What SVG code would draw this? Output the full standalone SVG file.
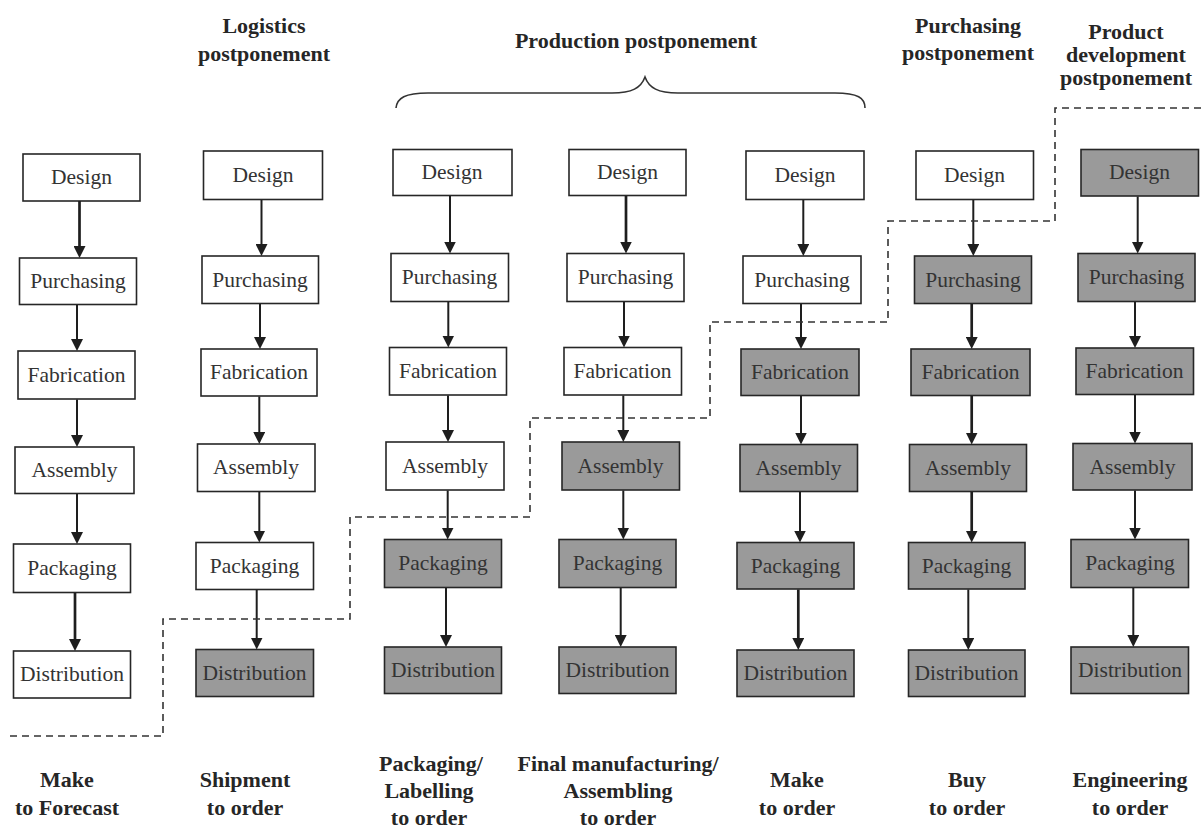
<svg xmlns="http://www.w3.org/2000/svg" width="1204" height="830" viewBox="0 0 1204 830" font-family="'Liberation Serif', 'Times New Roman', 'DejaVu Serif', serif">
  <defs>
    <style>
      text { font-family: 'Liberation Serif', 'Times New Roman', 'DejaVu Serif', serif; }
      .box rect { fill: #ffffff; stroke: #262626; stroke-width: 1.6; }
      .box.dark rect { fill: #9a9a9a; }
      .box text { font-size: 21.5px; fill: #333333; text-anchor: middle; }
      .head { font-size: 22px; font-weight: bold; fill: #262626; text-anchor: middle; }
      .flow line { stroke: #1e1e1e; stroke-width: 2; marker-end: url(#ah); }
      .flow line.thick { stroke-width: 2.7; }
      .cut { fill: none; stroke: #333333; stroke-width: 1.6; stroke-dasharray: 7 5; }
      .brace { fill: none; stroke: #333333; stroke-width: 1.6; }
    </style>
    <marker id="ah" viewBox="0 0 12 12" refX="8" refY="6" markerWidth="12" markerHeight="12" markerUnits="userSpaceOnUse" orient="auto">
      <path d="M0,0 L12,6 L0,12 z" fill="#1e1e1e"/>
    </marker>
  </defs>

  <rect x="0" y="0" width="1204" height="830" fill="#ffffff"/>

  <!-- strategy headings -->
  <g id="headings">
    <text class="head" x="264" y="33">Logistics</text>
    <text class="head" x="264" y="61">postponement</text>
    <text class="head" x="636" y="48">Production postponement</text>
    <text class="head" x="968" y="33">Purchasing</text>
    <text class="head" x="968" y="60">postponement</text>
    <text class="head" x="1126" y="39">Product</text>
    <text class="head" x="1126" y="62">development</text>
    <text class="head" x="1126" y="85">postponement</text>
    <path class="brace" d="M396,108 C397,98 405,93 428,93 L612,93 C632,93 641,88 645,77 C649,88 658,93 678,93 L835,93 C858,93 865,98 865,108"/>
  </g>

  <!-- column 1: make to forecast -->
  <g id="c1-design" class="box"><rect x="23" y="154" width="117" height="47"/><text x="81.5" y="184">Design</text></g>
  <g id="c1-purchasing" class="box"><rect x="19.5" y="258" width="117" height="46.5"/><text x="78" y="288">Purchasing</text></g>
  <g id="c1-fabrication" class="box"><rect x="18" y="351" width="117" height="48"/><text x="76.5" y="382">Fabrication</text></g>
  <g id="c1-assembly" class="box"><rect x="15" y="447" width="119" height="46.5"/><text x="74.5" y="477">Assembly</text></g>
  <g id="c1-packaging" class="box"><rect x="13.5" y="544" width="117" height="48.5"/><text x="72" y="575">Packaging</text></g>
  <g id="c1-distribution" class="box"><rect x="13.5" y="651" width="117" height="47"/><text x="72" y="681">Distribution</text></g>

  <!-- column 2: shipment to order -->
  <g id="c2-design" class="box"><rect x="203.5" y="151" width="119" height="48.5"/><text x="263" y="182">Design</text></g>
  <g id="c2-purchasing" class="box"><rect x="202" y="256" width="116.5" height="47.5"/><text x="260" y="287">Purchasing</text></g>
  <g id="c2-fabrication" class="box"><rect x="201" y="349" width="116" height="47"/><text x="259" y="379">Fabrication</text></g>
  <g id="c2-assembly" class="box"><rect x="197.5" y="444" width="117.5" height="47.5"/><text x="256" y="474">Assembly</text></g>
  <g id="c2-packaging" class="box"><rect x="196" y="542.5" width="117.5" height="47"/><text x="254.5" y="573">Packaging</text></g>
  <g id="c2-distribution" class="box dark"><rect x="196" y="649.5" width="117.5" height="47"/><text x="254.5" y="680">Distribution</text></g>

  <!-- column 3: packaging/labelling to order -->
  <g id="c3-design" class="box"><rect x="393" y="149.5" width="119" height="46"/><text x="452" y="179">Design</text></g>
  <g id="c3-purchasing" class="box"><rect x="391" y="253.5" width="117.5" height="48"/><text x="449.5" y="284">Purchasing</text></g>
  <g id="c3-fabrication" class="box"><rect x="389.5" y="347.5" width="117" height="47.5"/><text x="448" y="378">Fabrication</text></g>
  <g id="c3-assembly" class="box"><rect x="386" y="442" width="118" height="48"/><text x="445" y="473">Assembly</text></g>
  <g id="c3-packaging" class="box dark"><rect x="384.5" y="539.5" width="117" height="48"/><text x="443" y="570">Packaging</text></g>
  <g id="c3-distribution" class="box dark"><rect x="384.5" y="647" width="117" height="46.5"/><text x="443" y="677">Distribution</text></g>

  <!-- column 4: final manufacturing/assembling to order -->
  <g id="c4-design" class="box"><rect x="569" y="149.5" width="117" height="46"/><text x="627.5" y="179">Design</text></g>
  <g id="c4-purchasing" class="box"><rect x="567" y="253.5" width="117" height="48"/><text x="625.5" y="284">Purchasing</text></g>
  <g id="c4-fabrication" class="box"><rect x="564" y="347.5" width="117.5" height="47.5"/><text x="622.5" y="378">Fabrication</text></g>
  <g id="c4-assembly" class="box dark"><rect x="562" y="442" width="117.5" height="48"/><text x="620.5" y="473">Assembly</text></g>
  <g id="c4-packaging" class="box dark"><rect x="559" y="539.5" width="117" height="48"/><text x="617.5" y="570">Packaging</text></g>
  <g id="c4-distribution" class="box dark"><rect x="559" y="647" width="117" height="46.5"/><text x="617.5" y="677">Distribution</text></g>

  <!-- column 5: make to order -->
  <g id="c5-design" class="box"><rect x="746" y="151" width="118" height="48.5"/><text x="805" y="182">Design</text></g>
  <g id="c5-purchasing" class="box"><rect x="743" y="256" width="118" height="47.5"/><text x="802" y="287">Purchasing</text></g>
  <g id="c5-fabrication" class="box dark"><rect x="741" y="349" width="118" height="46.5"/><text x="800" y="379">Fabrication</text></g>
  <g id="c5-assembly" class="box dark"><rect x="740" y="444.5" width="117.5" height="47"/><text x="798.5" y="475">Assembly</text></g>
  <g id="c5-packaging" class="box dark"><rect x="737" y="542.5" width="117" height="46.5"/><text x="795.5" y="573">Packaging</text></g>
  <g id="c5-distribution" class="box dark"><rect x="737" y="650" width="117" height="46.5"/><text x="795.5" y="680">Distribution</text></g>

  <!-- column 6: buy to order -->
  <g id="c6-design" class="box"><rect x="916" y="151" width="117.5" height="48.5"/><text x="974.5" y="182">Design</text></g>
  <g id="c6-purchasing" class="box dark"><rect x="914.5" y="256" width="117" height="47.5"/><text x="973" y="287">Purchasing</text></g>
  <g id="c6-fabrication" class="box dark"><rect x="911" y="349" width="119" height="46.5"/><text x="970.5" y="379">Fabrication</text></g>
  <g id="c6-assembly" class="box dark"><rect x="909.5" y="444.5" width="117" height="47"/><text x="968" y="475">Assembly</text></g>
  <g id="c6-packaging" class="box dark"><rect x="908.5" y="542.5" width="116.5" height="46.5"/><text x="966.5" y="573">Packaging</text></g>
  <g id="c6-distribution" class="box dark"><rect x="908.5" y="650" width="116.5" height="46.5"/><text x="966.5" y="680">Distribution</text></g>

  <!-- column 7: engineering to order -->
  <g id="c7-design" class="box dark"><rect x="1081" y="149.5" width="117.5" height="46.5"/><text x="1139.5" y="179">Design</text></g>
  <g id="c7-purchasing" class="box dark"><rect x="1078" y="253.5" width="117" height="48"/><text x="1136.5" y="284">Purchasing</text></g>
  <g id="c7-fabrication" class="box dark"><rect x="1076" y="348" width="117.5" height="46.5"/><text x="1134.5" y="378">Fabrication</text></g>
  <g id="c7-assembly" class="box dark"><rect x="1073" y="443.5" width="119" height="46.5"/><text x="1132.5" y="474">Assembly</text></g>
  <g id="c7-packaging" class="box dark"><rect x="1071" y="539.5" width="117.5" height="48"/><text x="1130" y="570">Packaging</text></g>
  <g id="c7-distribution" class="box dark"><rect x="1071" y="647" width="117.5" height="46.5"/><text x="1130" y="677">Distribution</text></g>

  <!-- process flow arrows -->
  <g id="connectors" class="flow">
    <line class="thick" x1="79.5" y1="201" x2="79.5" y2="254"/>
    <line x1="77" y1="305" x2="77" y2="347"/>
    <line x1="77" y1="399.5" x2="77" y2="443"/>
    <line x1="77" y1="494" x2="77" y2="540"/>
    <line class="thick" x1="75" y1="593" x2="75" y2="647"/>

    <line x1="261.5" y1="200" x2="261.5" y2="252"/>
    <line x1="260" y1="304" x2="260" y2="345"/>
    <line x1="259.3" y1="396.5" x2="259.3" y2="440"/>
    <line x1="259.3" y1="492" x2="259.3" y2="538.5"/>
    <line x1="256.7" y1="590" x2="256.7" y2="645.5"/>

    <line x1="450" y1="196" x2="450" y2="249.5"/>
    <line x1="448.3" y1="302" x2="448.3" y2="343.5"/>
    <line x1="448" y1="395.5" x2="448" y2="438"/>
    <line x1="447.7" y1="490.5" x2="447.7" y2="535.5"/>
    <line x1="446" y1="588" x2="446" y2="643"/>

    <line class="thick" x1="626" y1="196" x2="626" y2="249.5"/>
    <line x1="624" y1="302" x2="624" y2="343.5"/>
    <line x1="623.3" y1="395.5" x2="623.3" y2="438"/>
    <line x1="623.3" y1="490.5" x2="623.3" y2="535.5"/>
    <line x1="620.7" y1="588" x2="620.7" y2="643"/>

    <line x1="803.3" y1="200" x2="803.3" y2="252"/>
    <line x1="801" y1="304" x2="801" y2="345"/>
    <line x1="801" y1="396" x2="801" y2="440.5"/>
    <line x1="800" y1="492" x2="800" y2="538.5"/>
    <line class="thick" x1="798.3" y1="589.5" x2="798.3" y2="646"/>

    <line x1="973.3" y1="200" x2="973.3" y2="252"/>
    <line class="thick" x1="971.7" y1="304" x2="971.7" y2="345"/>
    <line class="thick" x1="971.7" y1="396" x2="971.7" y2="440.5"/>
    <line class="thick" x1="971.7" y1="492" x2="971.7" y2="538.5"/>
    <line x1="968.3" y1="589.5" x2="968.3" y2="646"/>

    <line x1="1137.7" y1="196.5" x2="1137.7" y2="249.5"/>
    <line x1="1135" y1="302" x2="1135" y2="344"/>
    <line x1="1135" y1="395" x2="1135" y2="439.5"/>
    <line x1="1135" y1="490.5" x2="1135" y2="535.5"/>
    <line x1="1133.3" y1="588" x2="1133.3" y2="643"/>
  </g>

  <!-- decoupling point boundary -->
  <path id="decoupling-line" class="cut" d="M10,736 H163 V619 H350 V517 H530 V418 H710 V322 H888 V221 H1055 V108 H1204"/>

  <!-- supply chain strategy labels -->
  <g id="strategies">
    <text class="head" x="67" y="787">Make</text>
    <text class="head" x="67" y="815">to Forecast</text>
    <text class="head" x="245" y="787">Shipment</text>
    <text class="head" x="245" y="815">to order</text>
    <text class="head" x="431" y="771">Packaging/</text>
    <text class="head" x="429" y="798">Labelling</text>
    <text class="head" x="429" y="825">to order</text>
    <text class="head" x="618" y="771">Final manufacturing/</text>
    <text class="head" x="618" y="798">Assembling</text>
    <text class="head" x="618" y="825">to order</text>
    <text class="head" x="797" y="787">Make</text>
    <text class="head" x="797" y="815">to order</text>
    <text class="head" x="967" y="787">Buy</text>
    <text class="head" x="967" y="815">to order</text>
    <text class="head" x="1130" y="787">Engineering</text>
    <text class="head" x="1130" y="815">to order</text>
  </g>
</svg>
